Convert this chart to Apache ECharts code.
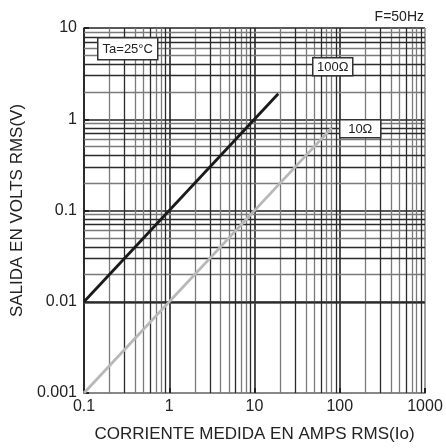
<!DOCTYPE html>
<html>
<head>
<meta charset="utf-8">
<script src="https://cdn.jsdelivr.net/npm/echarts@6/dist/echarts.min.js"></script>
<style>html,body{margin:0;padding:0;background:#fff}#c{width:446px;height:448px}</style>
</head>
<body>
<div id="c"></div>
<script>
// Data
const current100 = [0.1, 19];
const volts100 = [0.01, 1.9];
const current10 = [0.1, 80];
const volts10 = [0.001, 0.8];
const xTicks = [0.1, 1, 10, 100, 1000];
const yTicks = [0.001, 0.01, 0.1, 1, 10];
// grid (minor lines of log paper)
const xMinorGray = [0.2,0.4,0.5,0.7,0.8,2,4,5,7,8,20,40,50,70,80,200,400,500,700,800];
const xMinorDark = [0.3,0.6,0.9,3,6,9,30,60,90,300,600,900];
const yMinorGray = [0.002,0.005,0.006,0.009,0.02,0.05,0.06,0.09,0.2,0.5,0.6,0.9,2,5,6,9];
const yMinorDark = [0.003,0.004,0.007,0.008,0.03,0.04,0.07,0.08,0.3,0.4,0.7,0.8,3,4,7,8];

const FONT = '"Liberation Sans", Arial, sans-serif';
const chart = echarts.init(document.getElementById('c'), null, {renderer: 'canvas'});

function gridSeries(name, xs, ys, color) {
  const d = xs.map(v => ({xAxis: v})).concat(ys.map(v => ({yAxis: v})));
  return {
    name, type: 'line', data: [], z: 1, zlevel: 0, silent: true,
    markLine: {
      z: 1, zlevel: 0, silent: true, symbol: ['none','none'], animation: false,
      label: {show: false},
      lineStyle: {color, width: 1.3, type: 'solid'},
      emphasis: {disabled: true},
      data: d
    }
  };
}

function box(left, top, w, h, text) {
  return {type: 'group', left, top, z: 20, children: [
    {type: 'rect', z: 20, shape: {x: 0, y: 0, width: w, height: h},
      style: {fill: '#fff', stroke: '#333', lineWidth: 1.5}},
    {type: 'text', z: 21, x: w / 2, y: h / 2 + 0.5, style: {text, fontFamily: FONT, fontSize: 13,
      fill: '#222', align: 'center', verticalAlign: 'middle'}}
  ]};
}

chart.setOption({
  animation: false,
  backgroundColor: '#fff',
  grid: {left: 84, right: 21, top: 28, bottom: 52, containLabel: false},
  xAxis: {
    type: 'log', min: xTicks[0], max: xTicks[xTicks.length-1], logBase: 10,
    name: 'CORRIENTE MEDIDA EN AMPS RMS(Io)', nameLocation: 'middle', nameGap: 33,
    nameTextStyle: {fontFamily: FONT, fontSize: 17, color: '#222'},
    axisLine: {show: true, lineStyle: {color: '#888', width: 2}},
    axisTick: {show: true, inside: true, length: 5, lineStyle: {color: '#222', width: 2}},
    axisLabel: {fontFamily: FONT, fontSize: 16, color: '#222', margin: 6,
      formatter: v => String(v)},
    splitLine: {show: true, lineStyle: {color: ['#222','#222','#222','#222','#888'], width: 1.6}},
    minorTick: {show: false}, minorSplitLine: {show: false}
  },
  yAxis: {
    type: 'log', min: yTicks[0], max: yTicks[yTicks.length-1], logBase: 10,
    name: 'SALIDA EN VOLTS RMS(V)', nameLocation: 'middle', nameGap: 47,
    nameTextStyle: {fontFamily: FONT, fontSize: 17, color: '#222'},
    axisLine: {show: true, lineStyle: {color: '#222', width: 1.6}},
    axisTick: {show: true, inside: true, length: 5, lineStyle: {color: '#222', width: 2}},
    axisLabel: {fontFamily: FONT, fontSize: 16, color: '#222', margin: 7,
      formatter: v => String(v)},
    splitLine: {show: true, lineStyle: {color: '#222', width: 1.6}},
    minorTick: {show: false}, minorSplitLine: {show: false}
  },
  series: [
    gridSeries('gridGray', xMinorGray, yMinorGray, '#7a7a7a'),
    gridSeries('gridDark', xMinorDark, yMinorDark, '#2a2a2a'),
    {
      name: '100Ω', type: 'line', z: 15, zlevel: 1, symbol: 'none',
      data: current100.map((x, i) => [x, volts100[i]]),
      lineStyle: {color: '#1a1a1a', width: 2.8}
    },
    {
      name: '10Ω', type: 'line', z: 15, zlevel: 1, symbol: 'none',
      data: current10.map((x, i) => [x, volts10[i]]),
      lineStyle: {color: '#b8b8b8', width: 2.8}
    }
  ],
  graphic: [
    {type: 'text', right: 22, top: 10, z: 20,
      style: {text: 'F=50Hz', fontFamily: FONT, fontSize: 14, fill: '#222'}},
    box(97, 37, 60, 22, 'Ta=25°C'),
    box(312, 57, 40, 18, '100Ω'),
    box(339, 119, 41, 18, '10Ω')
  ]
});
</script>
</body>
</html>
